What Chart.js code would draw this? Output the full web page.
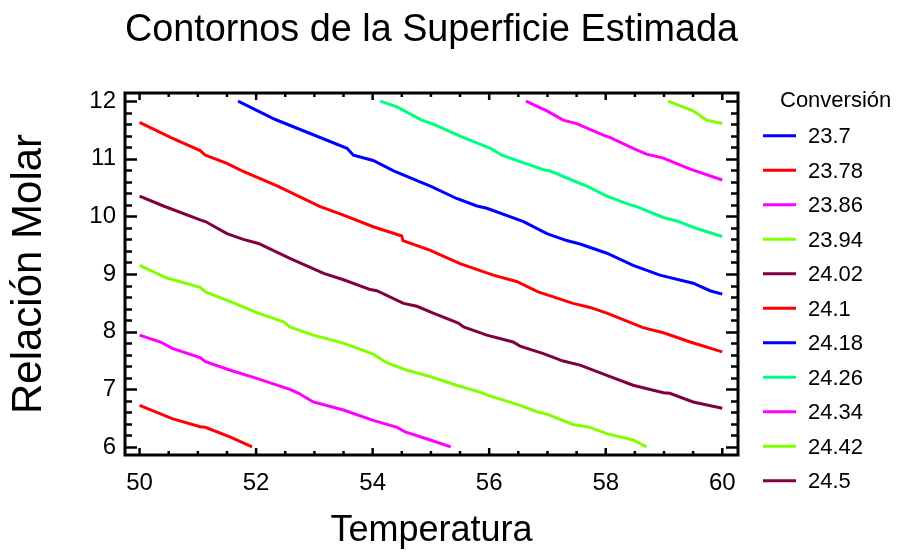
<!DOCTYPE html>
<html>
<head>
<meta charset="utf-8">
<title>Contornos de la Superficie Estimada</title>
<script src="https://cdn.jsdelivr.net/npm/chart.js@4.4.1/dist/chart.umd.min.js"></script>
<style>
  html, body { margin: 0; padding: 0; background: #fff; }
  #wrap { width: 898px; height: 554px; }
</style>
</head>
<body>
<div id="wrap"><canvas id="contourChart" width="898" height="554"></canvas></div>
<script>
// Contour levels (legend order)
const levels = ['23.7', '23.78', '23.86', '23.94', '24.02', '24.1', '24.18', '24.26', '24.34', '24.42', '24.5'];
const legendTitle = 'Conversión';

// Tick labels
const xTicks = [50, 52, 54, 56, 58, 60];
const yTicks = [6, 7, 8, 9, 10, 11, 12];

// Contour lines, [Temperatura, Relación Molar]
const c2370 = [];
const c2378 = [[50, 6.72], [50.56, 6.49], [51.04, 6.35], [51.13, 6.34], [51.56, 6.17], [51.93, 6.0]];
const c2386 = [[50, 7.94], [50.36, 7.82], [50.56, 7.71], [51.04, 7.55], [51.13, 7.48], [51.56, 7.33], [52.01, 7.19],
  [52.58, 7.0], [52.73, 6.93], [52.98, 6.78], [53.5, 6.64], [54.01, 6.46], [54.42, 6.34], [54.56, 6.26],
  [54.99, 6.12], [55.34, 6.0]];
const c2394 = [[50, 9.15], [50.47, 8.93], [51.04, 8.77], [51.13, 8.69], [51.56, 8.52], [51.78, 8.43], [52.01, 8.33],
  [52.47, 8.17], [52.58, 8.08], [52.98, 7.94], [53.5, 7.8], [54.01, 7.61], [54.24, 7.46], [54.59, 7.33],
  [54.99, 7.22], [55.44, 7.07], [55.84, 6.95], [56.02, 6.88], [56.53, 6.72], [56.82, 6.61], [56.99, 6.57],
  [57.44, 6.39], [57.73, 6.34], [58.02, 6.23], [58.47, 6.12], [58.7, 6.0]];
const c2402 = [[50, 10.35], [50.41, 10.18], [51.04, 9.94], [51.13, 9.91], [51.5, 9.7], [51.78, 9.6], [52.04, 9.53],
  [52.58, 9.27], [53.16, 9.01], [53.5, 8.9], [53.96, 8.73], [54.07, 8.71], [54.53, 8.49], [54.76, 8.44],
  [55.04, 8.32], [55.47, 8.15], [55.56, 8.08], [55.96, 7.94], [56.41, 7.82], [56.53, 7.75], [56.93, 7.62],
  [57.27, 7.49], [57.56, 7.42], [58.02, 7.24], [58.47, 7.07], [58.99, 6.94], [59.1, 6.93], [59.5, 6.78],
  [60, 6.67]];
const c2410 = [[50, 11.63], [50.53, 11.37], [51.04, 11.14], [51.13, 11.06], [51.5, 10.92], [51.76, 10.79],
  [52.36, 10.53], [53.1, 10.17], [53.5, 10.02], [54.01, 9.82], [54.5, 9.66], [54.52, 9.58], [54.99, 9.41],
  [55.5, 9.18], [56.07, 8.98], [56.47, 8.87], [56.84, 8.69], [57.44, 8.49], [57.73, 8.42], [58.02, 8.32],
  [58.47, 8.14], [58.64, 8.07], [58.99, 7.98], [59.45, 7.82], [60, 7.65]];
const c2418 = [[51.69, 12.0], [52.33, 11.68], [53.56, 11.18], [53.67, 11.06], [54.01, 10.97], [54.36, 10.79],
  [55.02, 10.51], [55.44, 10.31], [55.79, 10.18], [55.96, 10.14], [56.59, 9.91], [56.99, 9.7], [57.33, 9.58],
  [57.56, 9.52], [58.02, 9.36], [58.47, 9.15], [58.93, 8.98], [59.5, 8.84], [59.79, 8.71], [60, 8.65]];
const c2426 = [[54.13, 12.0], [54.42, 11.9], [54.84, 11.67], [55.04, 11.6], [55.5, 11.39], [56.02, 11.18],
  [56.22, 11.06], [56.53, 10.95], [56.96, 10.8], [57.04, 10.79], [57.56, 10.57], [57.67, 10.53], [58.02, 10.35],
  [58.42, 10.2], [58.5, 10.18], [58.99, 9.98], [59.22, 9.92], [59.56, 9.79], [60, 9.65]];
const c2434 = [[56.63, 12.0], [56.99, 11.83], [57.27, 11.67], [57.5, 11.61], [57.96, 11.41], [58.07, 11.37],
  [58.47, 11.18], [58.7, 11.08], [58.99, 11.01], [59.45, 10.82], [60, 10.63]];
const c2442 = [[59.07, 12.0], [59.5, 11.83], [59.73, 11.67], [60, 11.61]];
const c2450 = [];

const contours = [c2370, c2378, c2386, c2394, c2402, c2410, c2418, c2426, c2434, c2442, c2450];
const palette = ['#0000ff', '#ff0000', '#ff00ff', '#80ff00', '#800040', '#ff0000',
  '#0000ff', '#00ff80', '#ff00ff', '#80ff00', '#800040'];

const FONT = "'Liberation Sans', Arial, sans-serif";

// Frame with inward tick marks on all four sides, plus the legend
const framePlugin = {
  id: 'frame',
  afterDraw(chart) {
    const { ctx, chartArea: a, scales: { x, y } } = chart;
    ctx.save();
    ctx.strokeStyle = '#000';
    ctx.lineWidth = 3;
    ctx.strokeRect(a.left, a.top, a.right - a.left, a.bottom - a.top);

    ctx.lineWidth = 2.5;
    ctx.beginPath();
    for (let v = 50; v <= 60.001; v += 0.5) {
      const px = x.getPixelForValue(v);
      const len = xTicks.includes(v) ? 7 : 4;
      ctx.moveTo(px, a.bottom); ctx.lineTo(px, a.bottom - len);
      ctx.moveTo(px, a.top); ctx.lineTo(px, a.top + len);
    }
    for (let i = 0; i <= 30; i++) {
      const v = 6 + i * 0.2;
      const py = Math.round(y.getPixelForValue(v)) + 0.5;
      const len = i % 5 === 0 ? 12 : 7;
      ctx.moveTo(a.left, py); ctx.lineTo(a.left + len, py);
      ctx.moveTo(a.right, py); ctx.lineTo(a.right - len, py);
    }
    ctx.stroke();

    // legend
    ctx.fillStyle = '#000';
    ctx.textBaseline = 'middle';
    ctx.textAlign = 'left';
    ctx.font = '22px ' + FONT;
    ctx.fillText(legendTitle, 780, 101);
    chart.data.datasets.forEach((ds, i) => {
      const ly = 135.7 + i * 34.5;
      ctx.strokeStyle = ds.borderColor;
      ctx.lineWidth = 3;
      ctx.beginPath();
      ctx.moveTo(763, ly);
      ctx.lineTo(796, ly);
      ctx.stroke();
      ctx.fillText(ds.label, 808, ly + 1.5);
    });
    ctx.restore();
  }
};

const ctx = document.getElementById('contourChart');
new Chart(ctx, {
  type: 'scatter',
  data: {
    datasets: contours.map((pts, i) => ({
      label: levels[i],
      data: pts.map(p => ({ x: p[0], y: p[1] })),
      showLine: true,
      borderColor: palette[i],
      backgroundColor: palette[i],
      borderWidth: 3,
      pointRadius: 0,
      tension: 0
    }))
  },
  options: {
    responsive: false,
    animation: false,
    layout: { padding: { left: 0, right: 160, top: 0, bottom: 0 } },
    plugins: {
      legend: { display: false },
      tooltip: { enabled: false },
      title: {
        display: true,
        fullSize: false,
        text: 'Contornos de la Superficie Estimada',
        color: '#000',
        font: { size: 38, family: FONT, weight: 'normal' },
        padding: { top: 8, bottom: 39.4 }
      }
    },
    scales: {
      x: {
        type: 'linear',
        min: 49.75,
        max: 60.27,
        afterFit: s => { s.height = 99; },
        afterBuildTicks: s => { s.ticks = xTicks.map(v => ({ value: v })); },
        grid: { display: false, drawTicks: false },
        border: { display: false },
        ticks: {
          padding: 14,
          color: '#000',
          maxRotation: 0,
          font: { size: 24, family: FONT }
        },
        title: {
          display: true,
          text: 'Temperatura',
          color: '#000',
          font: { size: 36, family: FONT },
          padding: { top: 0, bottom: 1 }
        }
      },
      y: {
        type: 'linear',
        min: 5.86,
        max: 12.14,
        afterFit: s => { s.width = 125; },
        afterBuildTicks: s => { s.ticks = yTicks.map(v => ({ value: v })); },
        grid: { display: false, drawTicks: false },
        border: { display: false },
        ticks: {
          padding: 9,
          color: '#000',
          font: { size: 24, family: FONT }
        },
        title: {
          display: true,
          text: 'Relación Molar',
          color: '#000',
          font: { size: 42, family: FONT },
          padding: { top: 4, bottom: 0 }
        }
      }
    }
  },
  plugins: [framePlugin]
});
</script>
</body>
</html>
